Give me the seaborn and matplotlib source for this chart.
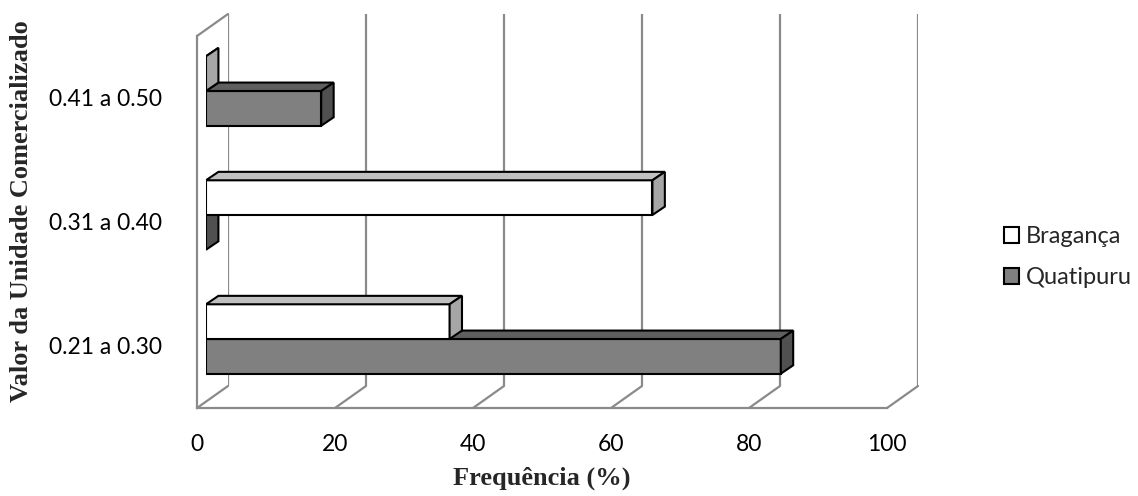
import matplotlib
matplotlib.use("Agg")
import matplotlib.pyplot as plt
import seaborn as sns
import pandas as pd
from matplotlib.patches import Polygon, Patch, ConnectionPatch

# Frequency (%) of unit price classes by locality
faixas = ["0.41 a 0.50", "0.31 a 0.40", "0.21 a 0.30"]
locais = ["Bragança", "Quatipuru"]
braganca = [0.0, 64.7, 35.3]
quatipuru = [16.7, 0.0, 83.3]
x_ticks = [0, 20, 40, 60, 80, 100]

df = pd.DataFrame({
    "faixa": faixas * 2,
    "local": [locais[0]] * len(faixas) + [locais[1]] * len(faixas),
    "freq": braganca + quatipuru,
})

sns.set_theme(style="white")
plt.rcParams["font.family"] = ["Lato", "DejaVu Sans"]

W, H = 1138, 496
fig = plt.figure(figsize=(W / 100, H / 100), dpi=100)
fig.patch.set_facecolor("white")


def px_axes(left, top, width, height):
    return fig.add_axes([left / W, 1 - (top + height) / H, width / W, height / H])


GRID = "#8a8a8a"
GRID_LW = 1.6
EDGE_LW = 1.5
YLIM = (2.5, -0.5)

# three planes of the oblique box: back wall, bar plane, front edge
ax_back = px_axes(228, 14, 690, 372)
ax_bar = px_axes(206, 29, 690, 372)
ax_front = px_axes(197, 36, 690, 372)

for ax in (ax_back, ax_bar, ax_front):
    ax.set_facecolor("none")
    ax.set_xlim(0, 100)
    ax.set_ylim(*YLIM)
    for s in ax.spines.values():
        s.set_visible(False)

# back wall grid
ax_back.vlines(x_ticks, YLIM[0], YLIM[1], color=GRID, lw=GRID_LW)
ax_back.set_xticks([])
ax_back.set_yticks([])

# floor diagonals and top edge of the side wall
for v in x_ticks:
    fig.add_artist(ConnectionPatch(xyA=(v, YLIM[0]), coordsA=ax_back.transData,
                                   xyB=(v, YLIM[0]), coordsB=ax_front.transData,
                                   color=GRID, lw=GRID_LW))
fig.add_artist(ConnectionPatch(xyA=(0, YLIM[1]), coordsA=ax_back.transData,
                               xyB=(0, YLIM[1]), coordsB=ax_front.transData,
                               color=GRID, lw=GRID_LW))

# bars
palette = {"Bragança": "#ffffff", "Quatipuru": "#808080"}
sns.barplot(data=df, y="faixa", x="freq", hue="local", order=faixas,
            hue_order=locais, palette=palette, width=0.56, orient="h",
            edgecolor="black", linewidth=EDGE_LW, saturation=1, legend=False,
            ax=ax_bar)
ax_bar.set_xlim(0, 100)
ax_bar.set_ylim(*YLIM)
ax_bar.set_xticks([])
ax_bar.set_yticks([])
ax_bar.set_xlabel("")
ax_bar.set_ylabel("")

# depth faces of each bar (top and right side)
DX, DY = 1.8, 0.068
shades = {True: ("#c0c0c0", "#a6a6a6"), False: ("#5f5f5f", "#505050")}
for p in list(ax_bar.patches):
    x0, y0 = p.get_x(), p.get_y()
    w, h = p.get_width(), p.get_height()
    x1, y1 = x0 + w, y0 + h
    top_c, side_c = shades[p.get_facecolor()[0] > 0.9]
    z = 10 - (y0 + y1) / 2
    p.set_zorder(z)
    p.set_joinstyle("miter")
    top = Polygon([(x0, y0), (x1, y0), (x1 + DX, y0 - DY), (x0 + DX, y0 - DY)],
                  closed=True, fc=top_c, ec="black", lw=EDGE_LW, zorder=z + 0.01,
                  joinstyle="miter")
    side = Polygon([(x1, y0), (x1, y1), (x1 + DX, y1 - DY), (x1 + DX, y0 - DY)],
                   closed=True, fc=side_c, ec="black", lw=EDGE_LW, zorder=z + 0.02,
                   joinstyle="miter")
    ax_bar.add_patch(top)
    ax_bar.add_patch(side)

# front edge: floor line, side wall edge, tick labels, axis titles
for side in ("left", "bottom"):
    ax_front.spines[side].set_visible(True)
    ax_front.spines[side].set_color(GRID)
    ax_front.spines[side].set_linewidth(GRID_LW)
ax_front.set_xticks(x_ticks, [str(v) for v in x_ticks])
ax_front.set_yticks(range(len(faixas)), faixas)
ax_front.tick_params(axis="x", length=0, pad=19, labelsize=16.5, colors="black")
ax_front.tick_params(axis="y", length=0, pad=25, labelsize=16.5, colors="black")

title_font = dict(family=["Liberation Serif", "DejaVu Serif"], weight="bold", size=19)
ax_front.set_xlabel("Frequência (%)", **title_font)
ax_front.xaxis.set_label_coords(0.5, (408 - 478) / 372)
ax_front.xaxis.label.set_verticalalignment("center")
ax_front.set_ylabel("Valor da Unidade Comercializado", **title_font)
ax_front.yaxis.set_label_coords((22 - 197) / 690, (408 - 211) / 372)
ax_front.yaxis.label.set_verticalalignment("center")

# legend
handles = [Patch(fc=palette[k], ec="black", lw=EDGE_LW, label=k) for k in locais]
fig.legend(handles=handles, loc="center left", bbox_to_anchor=(992 / W, 1 - 257 / H),
           frameon=False, fontsize=17, handlelength=0.65, handleheight=0.65,
           handletextpad=0.3, labelspacing=0.85, borderpad=0)

fig.savefig("out.png", dpi=100, facecolor="white")
